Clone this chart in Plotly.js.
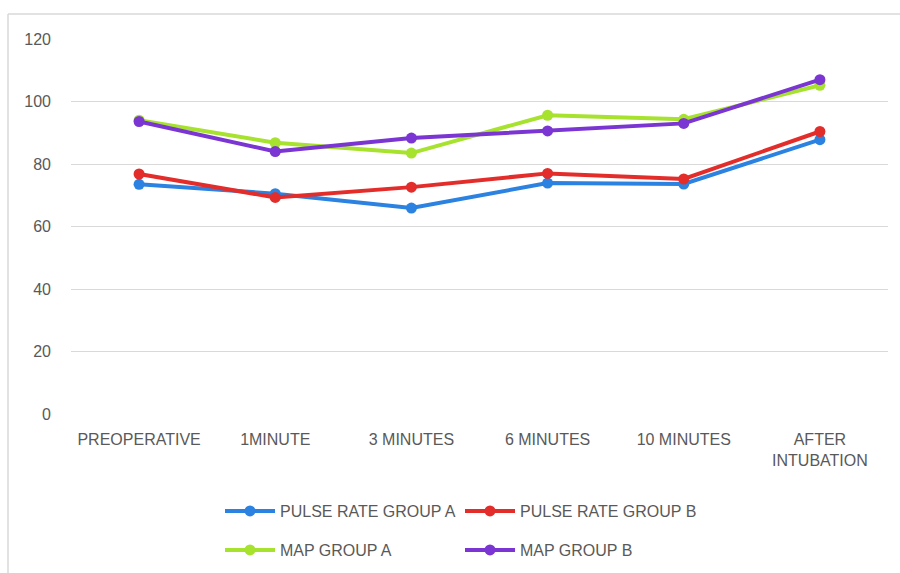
<!DOCTYPE html>
<html>
<head>
<meta charset="utf-8">
<script src="https://cdn.plot.ly/plotly-3.0.1.min.js"></script>
<style>html,body{margin:0;padding:0;background:#fff;}#chart{width:900px;height:573px;}</style>
</head>
<body>
<div id="chart"></div>
<script>
var categories = ["PREOPERATIVE", "1MINUTE", "3 MINUTES", "6 MINUTES", "10 MINUTES", "AFTER<br>INTUBATION"];
var pulseA = [73.5, 70.5, 65.9, 73.9, 73.6, 87.8];
var pulseB = [76.8, 69.3, 72.6, 77.0, 75.2, 90.4];
var mapA = [94.0, 86.8, 83.5, 95.6, 94.3, 105.2];
var mapB = [93.6, 84.0, 88.3, 90.6, 93.0, 107.0];
var seriesNames = ["PULSE RATE GROUP A", "PULSE RATE GROUP B", "MAP GROUP A", "MAP GROUP B"];
var colors = ["#2b82e0", "#e32d2b", "#a6e22e", "#7a35d2"];

var fontFam = "Liberation Sans, Arial, sans-serif";
function tr(y, i, leg) {
  return {
    x: categories, y: y, name: seriesNames[i], type: "scatter", mode: "lines+markers",
    line: {color: colors[i], width: 4}, marker: {color: colors[i], size: 11},
    legend: leg
  };
}
var data = [tr(pulseA, 0, "legend"), tr(pulseB, 1, "legend"), tr(mapA, 2, "legend2"), tr(mapB, 3, "legend2")];
var legBase = {orientation: "h", xref: "container", yref: "container", xanchor: "left", yanchor: "middle",
  font: {family: fontFam, size: 16, color: "#595959"}, entrywidth: 175, bgcolor: "rgba(0,0,0,0)", itemwidth: 50, tracegroupgap: 0};
var layout = {
  width: 900, height: 573,
  margin: {l: 71, r: 12, t: 39, b: 159},
  paper_bgcolor: "#fff", plot_bgcolor: "#fff",
  showlegend: true,
  xaxis: {type: "category", range: [-0.5, 5.5], showgrid: false, zeroline: false, showline: false, ticks: "",
    tickfont: {family: fontFam, size: 16, color: "#595959"}, ticklabelstandoff: 14, fixedrange: true},
  yaxis: {range: [0, 120], dtick: 20, showgrid: true, gridcolor: "#d9d9d9", gridwidth: 1, zeroline: false,
    showline: false, ticks: "", tickfont: {family: fontFam, size: 16, color: "#595959"}, ticklabelstandoff: 19, fixedrange: true},
  legend: Object.assign({}, legBase, {x: 220/900, y: 1 - 511/573}),
  legend2: Object.assign({}, legBase, {x: 220/900, y: 1 - 550/573}),
  shapes: [
    {type: "line", xref: "x domain", yref: "y domain", x0: -(71-8)/817, x1: 1.2, y0: 1 + 25/375, y1: 1 + 25/375, line: {color: "#d9d9d9", width: 1.5}},
    {type: "line", xref: "x domain", yref: "y domain", x0: -(71-8)/817, x1: -(71-8)/817, y0: 1 + 25/375, y1: -1, line: {color: "#d9d9d9", width: 1.5}}
  ]
};
Plotly.newPlot("chart", data, layout, {displayModeBar: false, staticPlot: true});
</script>
</body>
</html>
